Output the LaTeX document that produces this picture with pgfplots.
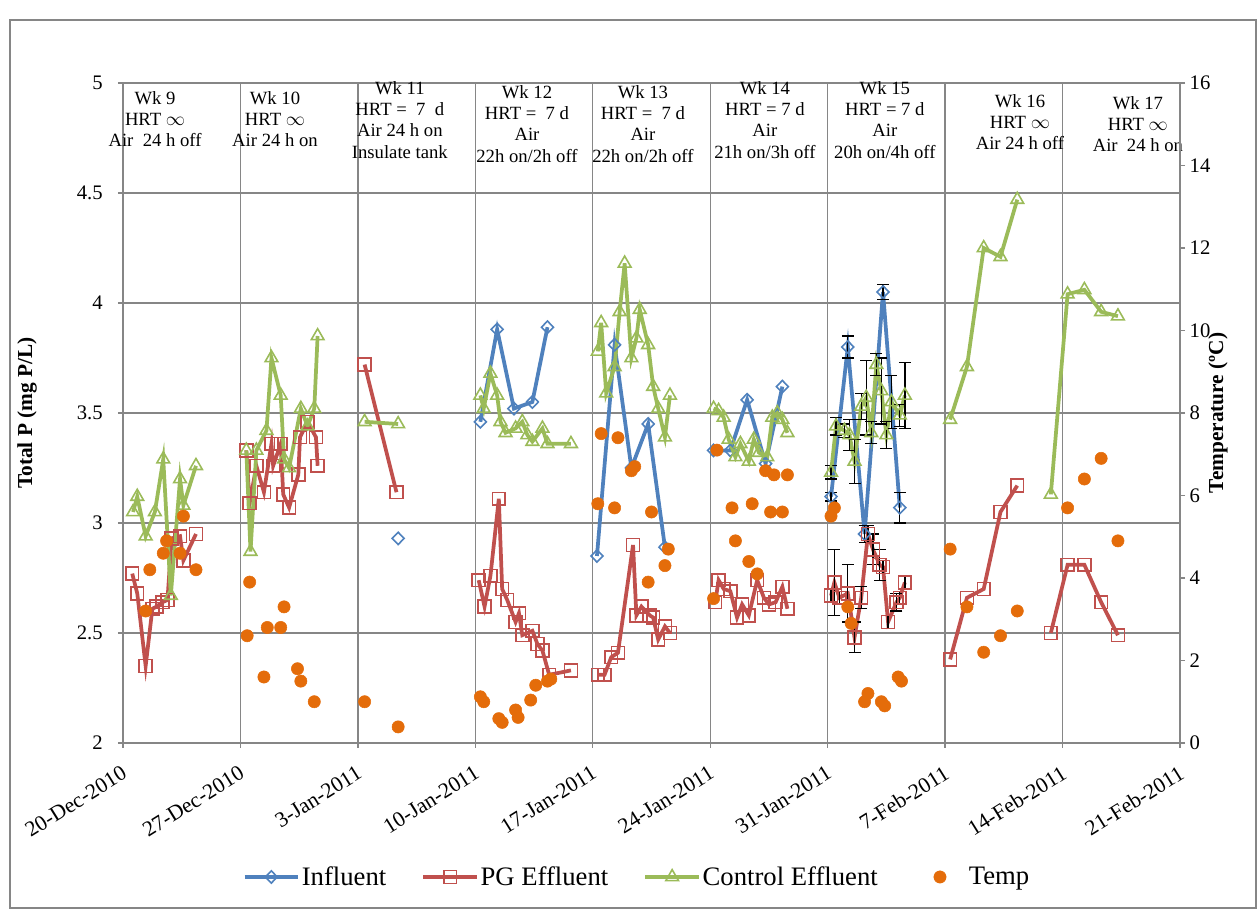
\documentclass[border=0pt]{standalone}
\usepackage{fontspec}
\setmainfont{Liberation Serif}
\usepackage{pgfplots}
\pgfplotsset{compat=1.18}
\definecolor{cblue}{RGB}{79,129,189}
\definecolor{cred}{RGB}{192,80,77}
\definecolor{cgreen}{RGB}{155,187,89}
\definecolor{corange}{RGB}{228,108,10}
\definecolor{cgrid}{RGB}{134,134,134}
\pgfplotsset{
  common/.style={at={(0pt,0pt)}, anchor=south west, scale only axis,
    width=792.75pt, height=495pt, xmin=0, xmax=63, clip=false,
    tick align=outside, major tick length=3.75pt,
    tick style={cgrid, line width=1pt},
    axis line style={cgrid, line width=1pt},
    /pgf/number format/assume math mode=true,
    tick label style={font=\fontsize{15.5}{17}\selectfont},
    unbounded coords=jump},
  blues/.style={color=cblue, line width=2.8pt, mark=diamond, mark size=4.6pt,
    mark options={solid, draw=cblue, fill=none, line width=1.2pt, xscale=1.3}},
  reds/.style={color=cred, line width=2.8pt, mark=square, mark size=4.8pt,
    mark options={solid, draw=cred, fill=none, line width=1.2pt}},
  greens/.style={color=cgreen, line width=2.8pt, mark=triangle, mark size=5.5pt,
    mark options={solid, draw=cgreen, fill=none, line width=1.2pt}},
  ebars/.style={error bars/.cd, y dir=both, y explicit,
    error bar style={black, line width=1pt, solid},
    error mark=-,
    error mark options={black, rotate=90, mark size=4.5pt, line width=1pt, solid}},
}
\begin{document}
\begin{tikzpicture}
\useasboundingbox (-92.25pt,-124.5pt) rectangle (850.5pt,557.25pt);
\draw[cgrid, line width=0.8pt] (-84.75pt,-123.75pt) rectangle (849.75pt,542.25pt);
\begin{axis}[common,
  ymin=2, ymax=5,
  xtick={0,7,14,21,28,35,42,49,56,63},
  xticklabels={20-Dec-2010,27-Dec-2010,3-Jan-2011,10-Jan-2011,17-Jan-2011,24-Jan-2011,31-Jan-2011,7-Feb-2011,14-Feb-2011,21-Feb-2011},
  xticklabel style={xshift=-1.5pt, yshift=-11pt, rotate=32, anchor=north east, inner sep=1pt, font=\fontsize{16.3}{18}\selectfont},
  ytick={2,2.5,3,3.5,4,4.5,5},
  yticklabel style={xshift=-8pt},
  xtick pos=bottom, ytick pos=left,
  grid=major, grid style={cgrid, line width=1pt},
  ylabel={\bfseries Total P (mg P/L)},
  ylabel style={at={(axis description cs:-0.0908,0.5)}, anchor=center, font=\fontsize{16}{18}\selectfont},
  legend style={at={(axis description cs:0.4863,-0.203)}, anchor=center, draw=none, fill=none,
    legend columns=4, font=\fontsize{20}{22}\selectfont,
    nodes={inner xsep=1.5pt, inner ysep=2pt},
    /tikz/every even column/.append style={column sep=25pt},
    /tikz/every odd column/.append style={column sep=0pt}},
  legend image code/.code={\draw[mark repeat=2, mark phase=2, #1] plot coordinates {(0pt,0pt) (20pt,0pt) (40pt,0pt)};},
]
% Influent
\addplot[blues] coordinates {
(16.4,2.93) (18,nan)
(21.3,3.46) (22.3,3.88) (23.3,3.52) (24.4,3.55) (25.3,3.89) (27,nan)
(28.25,2.85) (29.3,3.81) (30.3,3.25) (31.3,3.45) (32.3,2.89) (34,nan)
(35.2,3.33) (36.2,3.33) (37.2,3.56) (38.3,3.27) (39.3,3.62)
};
\addlegendentry{Influent}
% PG effluent
\addplot[reds] coordinates {
(0.55,2.77) (0.85,2.68) (1.35,2.35) (1.75,2.61) (2.0,2.62) (2.35,2.64) (2.65,2.65) (2.9,2.93) (3.4,2.94) (3.6,2.83) (4.35,2.95) (5,nan)
(7.35,3.33) (7.55,3.09) (7.95,3.26) (8.4,3.14) (8.85,3.36) (8.95,3.26) (9.4,3.36) (9.55,3.13) (9.9,3.07) (10.45,3.22) (10.55,3.39) (11.0,3.46) (11.5,3.39) (11.6,3.26) (12,nan)
(14.4,3.72) (16.3,3.14) (17,nan)
(21.2,2.74) (21.55,2.62) (21.9,2.76) (22.4,3.11) (22.6,2.70) (22.9,2.65) (23.4,2.55) (23.6,2.59) (23.8,2.49) (24.4,2.51) (24.7,2.45) (25.0,2.42) (25.4,2.31) (26.7,2.33) (27,nan)
(28.3,2.31) (28.7,2.31) (29.1,2.39) (29.5,2.41) (30.4,2.90) (30.6,2.58) (30.9,2.62) (31.4,2.58) (31.6,2.57) (31.9,2.47) (32.3,2.53) (32.6,2.50) (33,nan)
(35.3,2.64) (35.5,2.74) (35.8,2.70) (36.2,2.69) (36.6,2.57) (36.9,2.63) (37.3,2.58) (37.8,2.74) (38.2,2.66) (38.5,2.63) (38.9,2.64) (39.3,2.71) (39.6,2.61) (41,nan)
(49.3,2.38) (50.3,2.66) (51.3,2.70) (52.3,3.05) (53.3,3.17) (54,nan)
(55.3,2.50) (56.3,2.81) (57.3,2.81) (58.3,2.64) (59.3,2.49)
};
\addlegendentry{PG Effluent}
% Control effluent
\addplot[greens] coordinates {
(0.6,3.05) (0.85,3.12) (1.35,2.94) (1.9,3.05) (2.4,3.29) (2.85,2.67) (3.4,3.20) (3.6,3.08) (4.35,3.26) (5,nan)
(7.35,3.33) (7.6,2.87) (7.95,3.33) (8.55,3.42) (8.85,3.75) (9.4,3.58) (9.6,3.29) (9.9,3.25) (10.6,3.52) (11.0,3.44) (11.4,3.52) (11.6,3.85) (12,nan)
(14.4,3.46) (16.4,3.45) (17,nan)
(21.3,3.58) (21.5,3.52) (21.9,3.68) (22.3,3.58) (22.5,3.46) (22.8,3.41) (23.4,3.43) (23.8,3.46) (24.1,3.40) (24.4,3.37) (25.0,3.43) (25.3,3.36) (26.7,3.36) (27,nan)
(28.3,3.78) (28.5,3.91) (28.8,3.59) (29.3,3.71) (29.6,3.96) (29.9,4.18) (30.3,3.75) (30.6,3.84) (30.8,3.97) (31.3,3.81) (31.6,3.62) (31.9,3.52) (32.3,3.39) (32.6,3.58) (33,nan)
(35.2,3.52) (35.5,3.51) (35.8,3.48) (36.1,3.38) (36.5,3.30) (36.8,3.36) (37.3,3.28) (37.6,3.38) (37.9,3.32) (38.4,3.30) (38.7,3.48) (39.0,3.50) (39.3,3.47) (39.6,3.41) (41,nan)
(49.3,3.47) (50.3,3.71) (51.3,4.25) (52.3,4.21) (53.3,4.47) (54,nan)
(55.3,3.13) (56.3,4.04) (57.3,4.06) (58.3,3.96) (59.3,3.94)
};
\addlegendentry{Control Effluent}
% week 15 with error bars
\addplot[forget plot, blues, ebars] coordinates {
(42.2,3.12) +- (0,0.02) (43.2,3.80) +- (0,0.05) (44.2,2.95) +- (0,0.04) (45.3,4.05) +- (0,0.035) (46.3,3.07) +- (0,0.07)
};
\addplot[forget plot, reds, ebars] coordinates {
(42.2,2.67) +- (0,0.03) (42.4,2.73) +- (0,0.15) (42.7,2.66) +- (0,0.03) (43.2,2.68) +- (0,0.13) (43.6,2.48) +- (0,0.07) (44.0,2.66) +- (0,0.05) (44.4,2.95) +- (0,0.04) (44.7,2.88) +- (0,0.07) (45.1,2.81) +- (0,0.07) (45.3,2.80) +- (0,0.03) (45.6,2.55) +- (0,0.03) (46.1,2.64) +- (0,0.04) (46.3,2.66) +- (0,0.03) (46.6,2.73) +- (0,0.03)
};
\addplot[forget plot, greens, ebars] coordinates {
(42.2,3.23) +- (0,0.03) (42.5,3.44) +- (0,0.04) (43.0,3.42) +- (0,0.03) (43.3,3.40) +- (0,0.07) (43.6,3.28) +- (0,0.1) (44.0,3.53) +- (0,0.06) (44.3,3.57) +- (0,0.17) (44.6,3.41) +- (0,0.05) (44.9,3.72) +- (0,0.05) (45.2,3.60) +- (0,0.15) (45.5,3.40) +- (0,0.06) (45.8,3.55) +- (0,0.12) (46.3,3.49) +- (0,0.05) (46.6,3.58) +- (0,0.15)
};
\addlegendimage{color=corange, draw opacity=0, mark=*, mark size=4.6pt, mark options={draw opacity=1, draw=corange, fill=corange}}
\addlegendentry{Temp}
% annotations
\begin{scope}[every node/.style={anchor=north, align=center, inner sep=0pt, font=\fontsize{14}{16}\selectfont}]
\node at (axis cs:1.91,4.964) {Wk 9\\HRT $\infty$\\Air\ \ 24 h off};
\node at (axis cs:9.06,4.964) {Wk 10\\HRT $\infty$\\Air 24 h on};
\node at (axis cs:16.5,5.009) {Wk 11\\HRT =\ \ 7\ \ d\\Air 24 h on\\Insulate tank};
\node at (axis cs:24.08,4.991) {Wk 12\\HRT =\ \ 7 d\\Air\\22h on/2h off};
\node at (axis cs:30.99,4.991) {Wk 13\\HRT =\ \ 7 d\\Air\\22h on/2h off};
\node at (axis cs:38.26,5.009) {Wk 14\\HRT = 7 d\\Air\\21h on/3h off};
\node at (axis cs:45.41,5.009) {Wk 15\\HRT = 7 d\\Air\\20h on/4h off};
\node at (axis cs:53.46,4.95) {Wk 16\\HRT $\infty$\\Air 24 h off};
\node at (axis cs:60.49,4.941) {Wk 17\\HRT $\infty$\\Air\ \ 24 h on};
\end{scope}
\end{axis}
\begin{axis}[common,
  ymin=0, ymax=16, ytick={0,2,4,6,8,10,12,14,16},
  axis y line*=right, axis x line=none,
  ylabel={\bfseries Temperature (ºC)},
  ylabel style={at={(axis description cs:1.036,0.5)}, anchor=center, font=\fontsize{16}{18}\selectfont},
]
\addplot[only marks, mark=*, mark size=4.6pt, color=corange] coordinates {
(1.35,3.2) (1.6,4.2) (2.4,4.6) (2.6,4.9) (3.4,4.6) (3.6,5.5) (4.35,4.2)
(7.4,2.6) (7.55,3.9) (8.4,1.6) (8.6,2.8) (9.4,2.8) (9.6,3.3) (10.4,1.8) (10.6,1.5) (11.4,1.0)
(14.4,1.0) (16.4,0.39)
(21.3,1.12) (21.5,1.0) (22.4,0.59) (22.6,0.5) (23.4,0.8) (23.55,0.62) (24.3,1.04) (24.6,1.40) (25.3,1.50) (25.5,1.55)
(28.3,5.8) (28.5,7.5) (29.3,5.7) (29.5,7.4) (30.3,6.6) (30.5,6.7) (31.3,3.9) (31.5,5.6) (32.3,4.3) (32.5,4.7)
(35.2,3.5) (35.4,7.1) (36.3,5.7) (36.5,4.9) (37.3,4.4) (37.5,5.8) (37.8,4.1) (38.3,6.6) (38.6,5.6) (38.8,6.5) (39.3,5.6) (39.6,6.5)
(42.2,5.5) (42.4,5.7) (43.2,3.3) (43.4,2.9) (44.2,1.0) (44.4,1.2) (45.2,1.0) (45.4,0.9) (46.2,1.6) (46.4,1.5)
(49.3,4.7) (50.3,3.3) (51.3,2.2) (52.3,2.6) (53.3,3.2)
(56.3,5.7) (57.3,6.4) (58.3,6.9) (59.3,4.9)
};
\end{axis}
\end{tikzpicture}
\end{document}
